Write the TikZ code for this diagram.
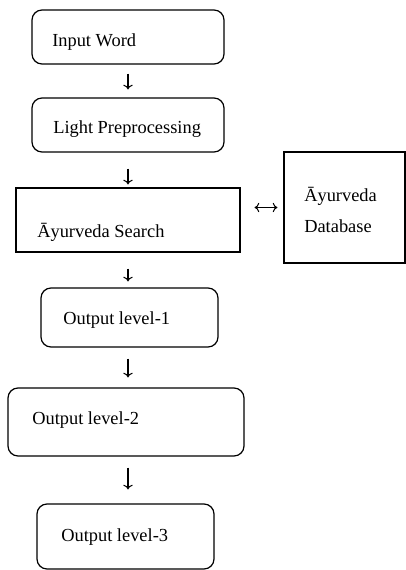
\documentclass[tikz,border=0pt]{standalone}
\usepackage{fontspec}
\setmainfont{Liberation Serif}
\usetikzlibrary{arrows.meta}
\begin{document}
\begin{tikzpicture}[x=0.75pt, y=-0.75pt, >={To[length=3.5pt, width=7pt]},
    rbox/.style={draw, line width=0.9pt, rounded corners=7.5pt, inner sep=0pt},
    sbox/.style={draw, line width=0.9pt, inner sep=0pt},
    lbl/.style={anchor=base west, inner sep=0pt, font=\fontsize{13.8}{16}\selectfont},
    arr/.style={->, line width=0.8pt}]
    \useasboundingbox (0,0) rectangle (406,570);

    % 1. Khung các bước xử lý
    \node[rbox, minimum width=144pt, minimum height=40.5pt] (b1) at (128,37) {};
    \node[rbox, minimum width=144pt, minimum height=40.5pt] (b2) at (128,125) {};
    \node[sbox, minimum width=168pt, minimum height=48pt] (b3) at (128,220) {};
    \node[sbox, minimum width=90.75pt, minimum height=83.25pt] (db) at (344.5,207.5) {};
    \node[rbox, minimum width=132.75pt, minimum height=44.25pt] (b4) at (129.5,317.5) {};
    \node[rbox, minimum width=177pt, minimum height=51pt] (b5) at (126,422) {};
    \node[rbox, minimum width=132.75pt, minimum height=48.75pt] (b6) at (125.5,536.5) {};

    % 2. Chữ trong các khung
    \node[lbl] (t1) at (52,47) {Input Word};
    \node[lbl] (t2) at (53,134) {Light Preprocessing};
    \node[lbl] (t3) at (37,237) {Āyurveda Search};
    \node[lbl] (d1) at (304,201) {Āyurveda};
    \node[lbl] (d2) at (304,232) {Database};
    \node[lbl] (t4) at (63,324) {Output level-1};
    \node[lbl] (t5) at (32,424) {Output level-2};
    \node[lbl] (t6) at (61,541) {Output level-3};

    % 3. Mũi tên
    \draw[arr, shorten <=6.75pt, shorten >=6pt] (b1.south) -- (b2.north);
    \draw[arr, shorten <=12pt, shorten >=2.25pt] (b2.south) -- (b3.north);
    \draw[arr, shorten <=12pt, shorten >=4.5pt] (b3.south) -- (b3.south |- b4.north);
    \draw[arr, shorten <=8.25pt, shorten >=7.5pt] (b4.south -| b1.south) -- (b5.north -| b1.south);
    \draw[arr, shorten <=8.25pt, shorten >=10.5pt] (b5.south -| b1.south) -- (b6.north -| b1.south);

    % Mũi tên hai chiều tới cơ sở dữ liệu
    \draw[<->, line width=0.8pt, shorten <=10.5pt, shorten >=4.5pt] (b3.east |- db.west) -- (db.west);
\end{tikzpicture}
\end{document}
